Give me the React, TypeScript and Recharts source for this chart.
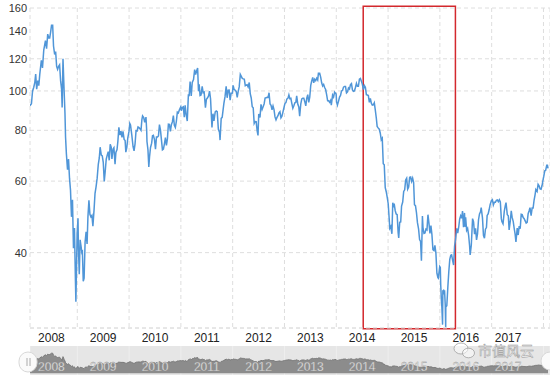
import React from 'react';
import {
  ComposedChart,
  AreaChart,
  LineChart,
  Line,
  Area,
  XAxis,
  YAxis,
  CartesianGrid,
  ReferenceArea
} from 'recharts';

// WTI crude, roughly weekly closes (USD / barrel)
const wti2008: [string, number][] = [
  ['02-01', 92], ['02-12', 93], ['02-20', 100], ['02-28', 102], ['03-07', 105], ['03-13', 110],
  ['03-20', 101], ['03-28', 106], ['04-04', 103], ['04-11', 110], ['04-22', 119], ['04-30', 114],
  ['05-09', 126], ['05-21', 133], ['05-29', 127], ['06-06', 138], ['06-13', 135], ['06-20', 135],
  ['06-27', 140], ['07-03', 145], ['07-11', 145], ['07-17', 129], ['07-25', 123], ['08-01', 125],
  ['08-08', 115], ['08-15', 113], ['08-22', 115], ['08-29', 116], ['09-05', 106], ['09-12', 101],
  ['09-16', 91], ['09-22', 120], ['09-30', 100], ['10-06', 88], ['10-10', 77], ['10-16', 70],
  ['10-24', 64], ['10-31', 68], ['11-07', 61], ['11-14', 57], ['11-21', 49], ['11-28', 54],
  ['12-05', 41], ['12-12', 46], ['12-19', 34], ['12-22', 30.3], ['12-31', 44.6]
];
const wti2009: [string, number][] = [
  ['01-06', 48.6], ['01-09', 41], ['01-15', 35.4], ['01-21', 43], ['01-27', 41.6], ['02-02', 40],
  ['02-06', 40.2], ['02-12', 34], ['02-18', 34.6], ['02-25', 42.5], ['03-04', 45], ['03-11', 42],
  ['03-17', 49], ['03-24', 53.8], ['03-31', 49.7], ['04-07', 49], ['04-14', 49.4], ['04-21', 46.5],
  ['04-29', 50.9], ['05-06', 56], ['05-13', 58], ['05-21', 61], ['05-29', 66], ['06-05', 68.4],
  ['06-11', 72.7], ['06-19', 69.5], ['06-26', 69.2], ['07-03', 66.7], ['07-10', 59.9], ['07-17', 63.6],
  ['07-24', 68], ['07-31', 69.5], ['08-07', 70.9], ['08-14', 67.5], ['08-21', 73.9], ['08-28', 72.7],
  ['09-02', 68], ['09-10', 72], ['09-16', 72.5], ['09-24', 66], ['09-30', 70.6], ['10-08', 71.7],
  ['10-14', 75.2], ['10-21', 81.4], ['10-29', 77.9], ['11-05', 79.6], ['11-12', 76.9], ['11-19', 79.5],
  ['11-27', 76], ['12-04', 75.5], ['12-09', 70.7], ['12-16', 72.6], ['12-23', 76.7], ['12-31', 79.4]
];
const wti2010: [string, number][] = [
  ['01-06', 83.2], ['01-11', 82.5], ['01-20', 78], ['01-29', 72.9], ['02-05', 71.2], ['02-12', 74.1],
  ['02-19', 79.8], ['02-26', 79.7], ['03-05', 81.5], ['03-12', 81.2], ['03-19', 80.7], ['03-26', 80],
  ['04-01', 84.9], ['04-06', 86.8], ['04-14', 86], ['04-21', 83.7], ['04-30', 86.2], ['05-05', 79.9],
  ['05-07', 75.1], ['05-14', 71.6], ['05-20', 65], ['05-25', 68.8], ['06-01', 72.6], ['06-09', 74.4],
  ['06-15', 77.6], ['06-21', 77.8], ['06-29', 75.9], ['07-06', 71.9], ['07-13', 77], ['07-20', 77],
  ['07-27', 77.5], ['08-03', 82.6], ['08-10', 80.2], ['08-17', 75.8], ['08-24', 71.6], ['08-31', 71.9],
  ['09-07', 74.1], ['09-14', 76.8], ['09-21', 73.5], ['09-28', 76.2], ['10-05', 82.8], ['10-12', 82.7],
  ['10-19', 79.5], ['10-26', 82.6], ['11-02', 83.9], ['11-09', 87], ['11-16', 82.3], ['11-23', 81.3],
  ['11-30', 84.1], ['12-07', 88.7], ['12-14', 88.3], ['12-21', 89.8], ['12-31', 91.4]
];
const wti2011: [string, number][] = [
  ['01-04', 89.4], ['01-11', 91.1], ['01-18', 91.4], ['01-25', 86.2], ['01-31', 92.2], ['02-07', 87.5],
  ['02-15', 84.3], ['02-23', 98.1], ['02-28', 97], ['03-07', 105.4], ['03-15', 97.2], ['03-22', 105],
  ['03-31', 106.7], ['04-08', 112.8], ['04-15', 109.7], ['04-21', 111.9], ['04-29', 113.9], ['05-05', 99.8],
  ['05-10', 103.9], ['05-16', 97.4], ['05-23', 97.7], ['05-31', 102.7], ['06-07', 99], ['06-14', 99.4],
  ['06-23', 91], ['06-30', 95.4], ['07-08', 96.2], ['07-15', 97.2], ['07-22', 99.9], ['07-29', 95.7],
  ['08-04', 86.6], ['08-08', 81.3], ['08-15', 87.9], ['08-22', 84.4], ['08-31', 88.8], ['09-07', 89.3],
  ['09-14', 88.9], ['09-22', 80.5], ['09-30', 79.2], ['10-04', 75.7], ['10-12', 85.6], ['10-19', 86.1],
  ['10-26', 90.2], ['10-31', 93.2], ['11-08', 96.8], ['11-16', 102.6], ['11-23', 96.2], ['11-30', 100.4],
  ['12-07', 100.5], ['12-14', 94.9], ['12-21', 98.7], ['12-30', 98.8]
];
const wti2012: [string, number][] = [
  ['01-04', 103.2], ['01-11', 100.9], ['01-19', 100.4], ['01-26', 99.7], ['02-02', 96.4], ['02-09', 99.8],
  ['02-16', 102.3], ['02-24', 109.8], ['03-01', 108.8], ['03-09', 107.4], ['03-16', 107.1], ['03-23', 106.9],
  ['03-30', 103], ['04-05', 103.3], ['04-12', 103.6], ['04-19', 102.3], ['04-27', 104.9], ['05-04', 98.5],
  ['05-11', 96.1], ['05-18', 91.5], ['05-25', 90.9], ['06-01', 83.2], ['06-08', 84.1], ['06-15', 84],
  ['06-22', 79.8], ['06-28', 77.7], ['07-03', 87.7], ['07-12', 86.1], ['07-19', 92.7], ['07-27', 90.1],
  ['08-03', 91.4], ['08-10', 92.9], ['08-17', 96], ['08-24', 96.2], ['08-31', 96.5], ['09-07', 96.4],
  ['09-14', 99], ['09-21', 92.9], ['09-28', 92.2], ['10-05', 89.9], ['10-12', 91.9], ['10-19', 90],
  ['10-26', 86.3], ['11-02', 84.9], ['11-09', 86.1], ['11-16', 86.9], ['11-23', 88.3], ['11-30', 88.9],
  ['12-07', 85.9], ['12-14', 86.7], ['12-21', 88.7], ['12-31', 91.8]
];
const wti2013: [string, number][] = [
  ['01-04', 93.1], ['01-11', 93.6], ['01-18', 95.6], ['01-25', 95.9], ['02-01', 97.8], ['02-08', 95.7],
  ['02-15', 95.9], ['02-22', 93.1], ['03-01', 90.7], ['03-08', 91.9], ['03-15', 93.5], ['03-22', 93.7],
  ['03-28', 97.2], ['04-05', 92.7], ['04-12', 91.3], ['04-18', 86.7], ['04-26', 93], ['05-03', 95.6],
  ['05-10', 96], ['05-17', 96], ['05-24', 94.1], ['05-31', 91.9], ['06-07', 96], ['06-14', 97.9],
  ['06-21', 93.7], ['06-28', 96.6], ['07-05', 103.2], ['07-12', 105.9], ['07-19', 108], ['07-26', 104.7],
  ['08-02', 106.9], ['08-09', 106], ['08-16', 107.5], ['08-23', 106.4], ['08-28', 110.5], ['09-06', 110.5],
  ['09-13', 108.2], ['09-20', 104.7], ['09-27', 102.9], ['10-04', 103.8], ['10-11', 102], ['10-18', 100.8],
  ['10-25', 97.9], ['11-01', 94.6], ['11-08', 94.6], ['11-15', 93.8], ['11-22', 94.8], ['11-27', 92.3],
  ['12-06', 97.7], ['12-13', 96.6], ['12-20', 99.3], ['12-31', 98.2]
];
const wti2014: [string, number][] = [
  ['01-03', 94], ['01-09', 92.3], ['01-17', 94.4], ['01-24', 96.6], ['01-31', 97.5], ['02-07', 100],
  ['02-14', 100.3], ['02-21', 102.2], ['02-28', 102.6], ['03-07', 102.6], ['03-14', 98.9], ['03-21', 99.5],
  ['03-28', 101.7], ['04-04', 101.1], ['04-11', 103.7], ['04-18', 104.3], ['04-25', 100.6], ['05-02', 99.8],
  ['05-09', 100], ['05-16', 102], ['05-23', 104.4], ['05-30', 102.7], ['06-06', 102.7], ['06-13', 106.9],
  ['06-20', 107.3], ['06-27', 105.7], ['07-03', 104.1], ['07-11', 100.8], ['07-18', 103.1], ['07-25', 102.1],
  ['08-01', 97.9], ['08-08', 97.7], ['08-15', 97.4], ['08-22', 93.7], ['08-29', 95.9], ['09-05', 93.3],
  ['09-12', 92.3], ['09-19', 92.4], ['09-26', 93.5], ['10-03', 89.7], ['10-10', 85.8], ['10-16', 81.8],
  ['10-24', 81], ['10-31', 80.5], ['11-07', 78.7], ['11-14', 75.8], ['11-21', 76.5], ['11-28', 66.2],
  ['12-05', 65.8], ['12-12', 57.8], ['12-19', 56.5], ['12-26', 54.7], ['12-31', 53.3]
];
const wti2015: [string, number][] = [
  ['01-02', 52.7], ['01-09', 48.4], ['01-13', 45.9], ['01-20', 46.4], ['01-28', 44.5], ['02-03', 53.1],
  ['02-06', 51.7], ['02-13', 52.8], ['02-20', 50.8], ['02-27', 49.8], ['03-06', 49.6], ['03-13', 44.8],
  ['03-17', 43.5], ['03-24', 47.5], ['03-31', 47.6], ['04-06', 52.1], ['04-14', 53.3], ['04-21', 56.6],
  ['04-28', 57.1], ['05-05', 60.4], ['05-12', 61], ['05-19', 57.3], ['05-26', 58], ['06-02', 61.3],
  ['06-09', 61.4], ['06-16', 59.9], ['06-23', 61], ['06-30', 59.5], ['07-06', 52.5], ['07-13', 52.2],
  ['07-20', 50.2], ['07-27', 47.4], ['08-04', 45.7], ['08-11', 43.1], ['08-18', 42.6], ['08-24', 38.2],
  ['08-31', 49.2], ['09-04', 46.1], ['09-11', 44.6], ['09-18', 44.7], ['09-25', 45.7], ['10-02', 45.5],
  ['10-09', 49.6], ['10-16', 47.3], ['10-23', 44.6], ['10-30', 46.6], ['11-06', 44.3], ['11-13', 40.7],
  ['11-20', 40.5], ['11-27', 41.7], ['12-04', 39.9], ['12-11', 35.6], ['12-18', 34.7], ['12-21', 34.6],
  ['12-31', 37]
];
const wti2016: [string, number][] = [
  ['01-04', 36.8], ['01-07', 33.3], ['01-12', 30.4], ['01-15', 29.4], ['01-20', 26.6], ['01-22', 32.2],
  ['01-27', 32.3], ['02-01', 31.6], ['02-03', 32.3], ['02-08', 29.7], ['02-11', 26.2], ['02-12', 29.4],
  ['02-19', 29.6], ['02-26', 32.8], ['03-04', 35.9], ['03-11', 38.5], ['03-18', 39.4], ['03-24', 39.5],
  ['03-31', 38.3], ['04-07', 37.3], ['04-14', 41.5], ['04-21', 43.2], ['04-29', 45.9], ['05-06', 44.7],
  ['05-13', 46.2], ['05-20', 48.4], ['05-27', 49.3], ['06-03', 48.6], ['06-09', 50.6], ['06-16', 46.2],
  ['06-23', 50.1], ['06-27', 46.3], ['07-01', 48.9], ['07-08', 45.4], ['07-15', 45.9], ['07-22', 44.2],
  ['07-29', 41.6], ['08-02', 39.5], ['08-10', 41.7], ['08-19', 48.5], ['08-26', 47.6], ['09-02', 44.4],
  ['09-09', 45.9], ['09-16', 43], ['09-23', 44.5], ['09-30', 48.2], ['10-07', 49.8], ['10-14', 50.4],
  ['10-19', 51.6], ['10-28', 48.7], ['11-04', 44.1], ['11-11', 43.4], ['11-18', 45.7], ['11-25', 46.1],
  ['11-30', 49.4], ['12-07', 49.8], ['12-14', 51], ['12-21', 52.5], ['12-30', 53.7]
];
const wti2017: [string, number][] = [
  ['01-06', 54], ['01-13', 52.4], ['01-20', 53.2], ['01-27', 53.2], ['02-03', 53.8], ['02-10', 53.9],
  ['02-17', 53.4], ['02-24', 54], ['03-03', 53.3], ['03-10', 48.5], ['03-14', 47.7], ['03-22', 47.1],
  ['03-31', 50.6], ['04-07', 52.2], ['04-12', 53.1], ['04-21', 49.6], ['04-28', 49.3], ['05-04', 45.5],
  ['05-12', 47.8], ['05-19', 50.7], ['05-25', 48.9], ['06-02', 47.7], ['06-09', 45.8], ['06-15', 44.5],
  ['06-21', 42.5], ['06-30', 46], ['07-07', 44.2], ['07-14', 46.5], ['07-21', 45.8], ['07-28', 49.7],
  ['08-04', 49.6], ['08-11', 48.8], ['08-18', 48.5], ['08-25', 47.9], ['09-01', 47.3], ['09-08', 47.5],
  ['09-15', 49.9], ['09-22', 50.7], ['09-28', 51.6], ['10-06', 49.3], ['10-13', 51.5], ['10-20', 51.5],
  ['10-27', 53.9], ['11-03', 55.6], ['11-08', 57.2], ['11-17', 56.6], ['11-24', 58.9], ['12-01', 58.4],
  ['12-08', 57.4], ['12-15', 57.3], ['12-22', 58.5], ['12-29', 60.4]
];
const wti2018: [string, number][] = [
  ['01-03', 61.6], ['01-10', 63.6], ['01-16', 63.7], ['01-24', 65.6], ['01-29', 65.6], ['02-02', 64.5]
];

const yTicks = [40, 60, 80, 100, 120, 140, 160];
const yearTicks = [2009, 2010, 2011, 2012, 2013, 2014, 2015, 2016, 2017, 2018];
const xDomain: [number, number] = [2008.087, 2018.126];
const yDomain: [number, number] = [26.1, 160];
const navDomain: [number, number] = [-13, 197];
// highlighted span: mid-2014 slide to the 2016 bottom
const boxStart = 2014.52;
const boxEnd = 2016.3;

const byYear: [number, [string, number][]][] = [
  [2008, wti2008], [2009, wti2009], [2010, wti2010], [2011, wti2011], [2012, wti2012],
  [2013, wti2013], [2014, wti2014], [2015, wti2015], [2016, wti2016], [2017, wti2017], [2018, wti2018]
];

const toYear = (year: number, md: string) => {
  const [m, d] = md.split('-').map(Number);
  const start = Date.UTC(year, 0, 1);
  const end = Date.UTC(year + 1, 0, 1);
  return year + (Date.UTC(year, m - 1, d) - start) / (end - start);
};

const data = byYear.flatMap(([year, rows]) =>
  rows.map(([md, price]) => ({ t: toYear(year, md), price }))
);

const W = 550;
const PLOT_LEFT = 30;
const PX_PER_YEAR = (W - PLOT_LEFT) / (xDomain[1] - xDomain[0]);
const FONT = '"Liberation Sans", Arial, sans-serif';

// labels sit in the middle of each year, grid lines on Jan 1
const YearTick = (props: any) => {
  const { x, y, payload } = props;
  return (
    <text x={x - PX_PER_YEAR / 2} y={y + 13.5} textAnchor="middle" fill="#222" fontSize={12} fontFamily={FONT}>
      {payload.value - 1}
    </text>
  );
};

const NavTick = (props: any) => {
  const { x, y, payload } = props;
  return (
    <text
      x={x - PX_PER_YEAR / 2}
      y={y - 4}
      textAnchor="middle"
      fill="#f2f2f2"
      stroke="#8a8a8a"
      strokeWidth={0.3}
      fontSize={12}
      fontFamily={FONT}
    >
      {payload.value - 1}
    </text>
  );
};

const EmptyTick = () => <g />;

const App: React.FC = () => {
  return (
    <div style={{ position: 'relative', width: W, height: 375, overflow: 'hidden', background: '#fff' }}>
      <style>{'body{margin:0}'}</style>
      <ComposedChart width={W} height={345} data={data} margin={{ top: 8, right: 0, bottom: 0, left: 0 }}>
        <CartesianGrid stroke="#dedede" strokeDasharray="4 3" />
        <XAxis
          dataKey="t"
          type="number"
          domain={xDomain}
          allowDataOverflow
          ticks={yearTicks}
          height={17}
          tickSize={0}
          tickMargin={0}
          tickLine={false}
          axisLine={{ stroke: '#dedede', strokeDasharray: '4 3' }}
          tick={<YearTick />}
        />
        <YAxis
          scale="log"
          domain={yDomain}
          allowDataOverflow
          ticks={yTicks}
          width={PLOT_LEFT}
          tickSize={0}
          tickMargin={3}
          tickLine={false}
          axisLine={false}
          tick={{ fill: '#333', fontSize: 11, fontFamily: FONT }}
        />
        <ReferenceArea
          x1={boxStart}
          x2={boxEnd}
          y1={26}
          y2={161.5}
          ifOverflow="visible"
          fill="none"
          stroke="#d3282d"
          strokeWidth={1.5}
        />
        <Line
          type="linear"
          dataKey="price"
          stroke="#5096d8"
          strokeWidth={1.5}
          dot={false}
          isAnimationActive={false}
        />
      </ComposedChart>

      {/* navigator strip */}
      <div style={{ position: 'absolute', left: PLOT_LEFT, top: 346, width: W - PLOT_LEFT, height: 29, background: '#e6e6e6' }} />
      <div style={{ position: 'absolute', left: 0, top: 346 }}>
        <AreaChart width={W} height={30} data={data} margin={{ top: 0, right: 0, bottom: 0, left: PLOT_LEFT }}>
          <CartesianGrid horizontal={false} stroke="rgba(255,255,255,0.35)" />
          <XAxis
            dataKey="t"
            type="number"
            domain={xDomain}
            allowDataOverflow
            ticks={yearTicks}
            height={1}
            tickSize={0}
            tickLine={false}
            axisLine={false}
            tick={<EmptyTick />}
          />
          <YAxis hide domain={navDomain} />
          <Area
            type="linear"
            dataKey="price"
            stroke="#7a7a7a"
            strokeWidth={1}
            fill="#8c8c8c"
            fillOpacity={1}
            isAnimationActive={false}
          />
        </AreaChart>
      </div>
      {/* navigator year labels drawn over the area */}
      <div style={{ position: 'absolute', left: 0, top: 346 }}>
        <LineChart width={W} height={30} data={data} margin={{ top: 0, right: 0, bottom: 0, left: PLOT_LEFT }}>
          <XAxis
            dataKey="t"
            type="number"
            domain={xDomain}
            allowDataOverflow
            ticks={yearTicks}
            height={1}
            tickSize={0}
            tickMargin={0}
            tickLine={false}
            axisLine={false}
            tick={<NavTick />}
          />
          <YAxis hide domain={navDomain} />
          <Line dataKey="price" stroke="none" dot={false} isAnimationActive={false} />
        </LineChart>
      </div>

      {/* navigator handles + watermark */}
      <svg width={W} height={375} style={{ position: 'absolute', left: 0, top: 0, pointerEvents: 'none' }}>
        <rect x={19} y={352} width={18} height={20} rx={9} fill="#fafafa" stroke="#d8d8d8" />
        <line x1={27} y1={358} x2={27} y2={366} stroke="#aaa" />
        <line x1={30} y1={358} x2={30} y2={366} stroke="#aaa" />
        <rect x={541} y={352} width={18} height={18} rx={9} fill="#fafafa" stroke="#d8d8d8" />
        <ellipse cx={461} cy={348.5} rx={7} ry={5.5} fill="rgba(255,255,255,0.5)" stroke="#a0a0a0" strokeWidth={0.8} />
        <ellipse cx={468.5} cy={353} rx={6} ry={4.8} fill="rgba(255,255,255,0.5)" stroke="#a0a0a0" strokeWidth={0.8} />
        <text
          x={478}
          y={356}
          fontSize={14}
          fontFamily='"Noto Sans CJK SC", sans-serif'
          fill="rgba(255,255,255,0.8)"
          stroke="#9a9a9a"
          strokeWidth={0.5}
        >
          市值风云
        </text>
      </svg>
    </div>
  );
};

export default App;
